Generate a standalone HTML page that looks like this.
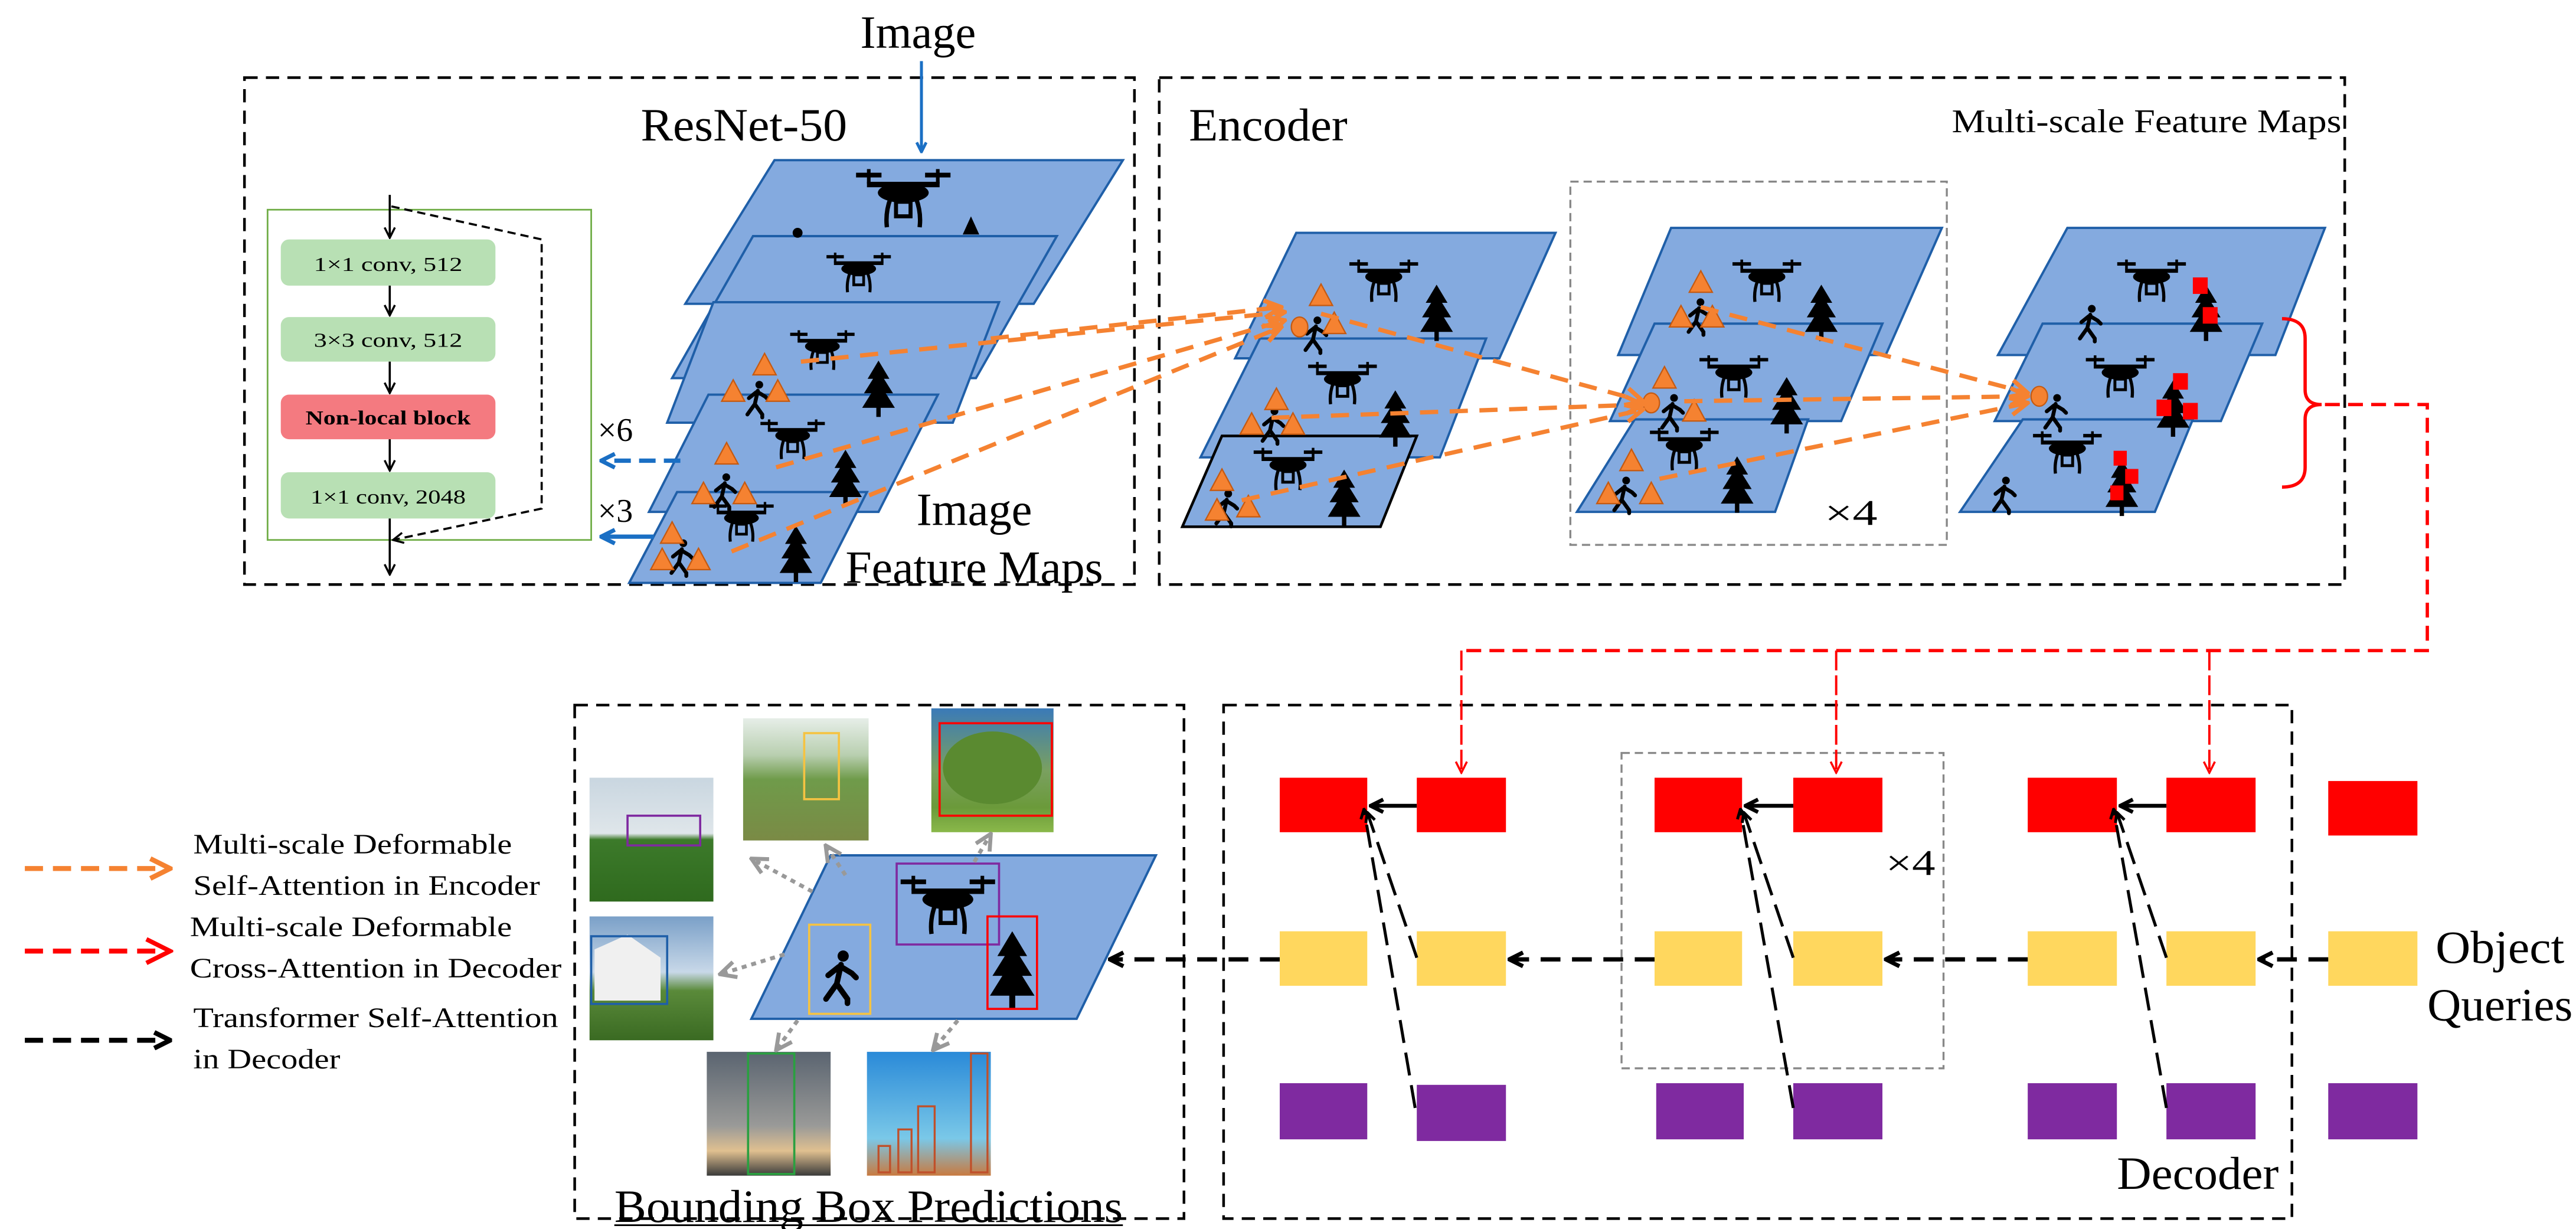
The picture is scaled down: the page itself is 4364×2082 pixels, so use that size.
<!DOCTYPE html>
<html><head><meta charset="utf-8"><style>
html,body{margin:0;padding:0;background:#fff;}
svg{display:block;}
text{font-family:"Liberation Serif",serif;fill:#000;}
</style></head><body>
<svg width="4364" height="2082" viewBox="0 0 1560 744.3" xmlns="http://www.w3.org/2000/svg">
<defs>
<g id="drone">
<rect x="-26" y="-14" width="14" height="2.6" fill="#000"/><rect x="12" y="-14" width="14" height="2.6" fill="#000"/>
<rect x="-20" y="-16" width="2" height="8" fill="#000"/><rect x="18" y="-16" width="2" height="8" fill="#000"/>
<rect x="-20" y="-9" width="40" height="3" fill="#000"/>
<ellipse cx="0" cy="-3" rx="14" ry="5.5" fill="#000"/>
<path d="M-7,0 Q-10,8 -9,16 M7,0 Q10,8 9,16" stroke="#000" stroke-width="2.4" fill="none"/>
<rect x="-4" y="2" width="8" height="8" fill="none" stroke="#000" stroke-width="2.2"/>
</g>
<g id="tree">
<polygon points="0,-16 -6,-6 -3,-6 -8,2 -4,2 -9,10 9,10 4,2 8,2 3,-6 6,-6" fill="#000"/>
<rect x="-1.2" y="9" width="2.4" height="6" fill="#000"/>
</g>
<g id="person">
<circle cx="2" cy="-10" r="2.6" fill="#000"/>
<path d="M1,-6 L-1,3 L-6,10 M-1,3 L4,10 L4,12 M0,-5 L-5,-1 M1,-5 L6,-2 L8,0" stroke="#000" stroke-width="2.6" fill="none" stroke-linecap="round"/>
</g>
<polygon id="tri" points="0,-8 -7,5 7,5" fill="#f58231" stroke="#c55a11" stroke-width="0.8"/>
<marker id="ao" viewBox="0 0 10 10" refX="9" refY="5" markerWidth="5" markerHeight="5" orient="auto"><path d="M1,1 L9,5 L1,9" fill="none" stroke="#f58231" stroke-width="2"/></marker>
<marker id="ar" viewBox="0 0 10 10" refX="9" refY="5" markerWidth="6" markerHeight="6" orient="auto"><path d="M1,1 L9,5 L1,9" fill="none" stroke="#f00" stroke-width="1.5"/></marker>
<marker id="ak" viewBox="0 0 10 10" refX="9" refY="5" markerWidth="4" markerHeight="4" orient="auto"><path d="M1,1 L9,5 L1,9" fill="none" stroke="#000" stroke-width="2.4"/></marker>
<marker id="ak2" viewBox="0 0 10 10" refX="9" refY="5" markerWidth="6" markerHeight="6" orient="auto"><path d="M1,1 L9,5 L1,9" fill="none" stroke="#000" stroke-width="1.6"/></marker>
<marker id="ab" viewBox="0 0 10 10" refX="9" refY="5" markerWidth="4" markerHeight="4" orient="auto"><path d="M1,1 L9,5 L1,9" fill="none" stroke="#1a6fc4" stroke-width="2.4"/></marker>
<marker id="ag" viewBox="0 0 10 10" refX="9" refY="5" markerWidth="5" markerHeight="5" orient="auto"><path d="M1,1 L9,5 L1,9" fill="none" stroke="#999" stroke-width="2"/></marker>
</defs>

<!-- Main dashed boxes -->
<g fill="none" stroke="#000" stroke-width="1.6" stroke-dasharray="8,5">
<rect x="148" y="47" width="539" height="307"/>
<rect x="702" y="47" width="718" height="307"/>
<rect x="348" y="427" width="369" height="311"/>
<rect x="741" y="427" width="647" height="311"/>
</g>
<g fill="none" stroke="#888" stroke-width="1.2" stroke-dasharray="5,3">
<rect x="951" y="110" width="228" height="220"/>
<rect x="982" y="456" width="195" height="191"/>
</g>

<!-- titles -->
<text x="556" y="29" font-size="28" text-anchor="middle" textLength="70" lengthAdjust="spacingAndGlyphs">Image</text>
<line x1="558" y1="37" x2="558" y2="92" stroke="#1a6fc4" stroke-width="1.8" marker-end="url(#ab)"/>
<text x="388" y="85" font-size="28" textLength="125" lengthAdjust="spacingAndGlyphs">ResNet-50</text>
<text x="720" y="85" font-size="28" textLength="96" lengthAdjust="spacingAndGlyphs">Encoder</text>
<text x="1182" y="80" font-size="20" textLength="236" lengthAdjust="spacingAndGlyphs">Multi-scale Feature Maps</text>

<!-- green block -->
<rect x="162" y="127" width="196" height="200" fill="none" stroke="#70ad47" stroke-width="1"/>
<g font-size="12" text-anchor="middle">
<rect x="170" y="145" width="130" height="28" rx="5" fill="#b8e0b4"/>
<text x="235" y="164" textLength="90" lengthAdjust="spacingAndGlyphs">1×1  conv, 512</text>
<rect x="170" y="192" width="130" height="27" rx="5" fill="#b8e0b4"/>
<text x="235" y="210" textLength="90" lengthAdjust="spacingAndGlyphs">3×3  conv, 512</text>
<rect x="170" y="239" width="130" height="27" rx="5" fill="#f47a80"/>
<text x="235" y="257" font-weight="bold" textLength="100" lengthAdjust="spacingAndGlyphs">Non-local block</text>
<rect x="170" y="286" width="130" height="28" rx="5" fill="#b8e0b4"/>
<text x="235" y="305" textLength="94" lengthAdjust="spacingAndGlyphs">1×1  conv, 2048</text>
</g>
<g stroke="#000" stroke-width="1.3" marker-end="url(#ak2)">
<line x1="236" y1="118" x2="236" y2="144"/>
<line x1="236" y1="173" x2="236" y2="191"/>
<line x1="236" y1="219" x2="236" y2="238"/>
<line x1="236" y1="266" x2="236" y2="285"/>
<line x1="236" y1="314" x2="236" y2="348"/>
</g>
<polyline points="237,125 328,145 328,308 238,327" fill="none" stroke="#000" stroke-width="1.3" stroke-dasharray="5,3" marker-end="url(#ak2)"/>

<!-- ResNet layers -->
<g fill="#84aadf" stroke="#1f5fa8" stroke-width="1.4">
<polygon points="469,97 680,97 626,184 415,184"/>
<polygon points="456,143 640,143 591,229 407,229"/>
<polygon points="432,183 605,183 577,256 404,256"/>
<polygon points="429,239 568,239 532,310 393,310"/>
<polygon points="410,298 525,298 497,353 381,353"/>
</g>
<!-- icons on resnet layers -->
<circle cx="483" cy="141" r="3" fill="#000"/>
<polygon points="588,131 583,142 593,142" fill="#000"/>
<use href="#drone" transform="translate(547,120) scale(1.1)"/>
<use href="#drone" transform="translate(520,165) scale(0.75)"/>
<use href="#drone" transform="translate(498,212) scale(0.75)"/>
<use href="#tree" transform="translate(532,236) scale(1.1)"/>
<use href="#person" transform="translate(458,242) scale(0.9)"/>
<use href="#tri" transform="translate(463,222)"/><use href="#tri" transform="translate(444,238)"/><use href="#tri" transform="translate(471,238)"/>
<use href="#drone" transform="translate(480,266) scale(0.75)"/>
<use href="#tree" transform="translate(512,290) scale(1.1)"/>
<use href="#person" transform="translate(438,298) scale(0.9)"/>
<use href="#tri" transform="translate(440,276)"/><use href="#tri" transform="translate(426,300)"/><use href="#tri" transform="translate(451,300)"/>
<use href="#drone" transform="translate(449,316) scale(0.75)"/>
<use href="#tree" transform="translate(482,336) scale(1.1)"/>
<use href="#person" transform="translate(412,338) scale(0.9)"/>
<use href="#tri" transform="translate(407,324)"/><use href="#tri" transform="translate(401,340)"/><use href="#tri" transform="translate(423,340)"/>

<text x="555" y="318" font-size="28" textLength="70" lengthAdjust="spacingAndGlyphs">Image</text>
<text x="512" y="353" font-size="28" textLength="156" lengthAdjust="spacingAndGlyphs">Feature Maps</text>
<text x="362" y="267" font-size="20">×6</text>
<text x="362" y="316" font-size="20">×3</text>
<line x1="412" y1="279" x2="364" y2="279" stroke="#1a6fc4" stroke-width="2.6" stroke-dasharray="10,5" marker-end="url(#ab)"/>
<line x1="396" y1="325" x2="364" y2="325" stroke="#1a6fc4" stroke-width="2.6" marker-end="url(#ab)"/>

<!-- Encoder stacks -->
<g fill="#84aadf" stroke="#1f5fa8" stroke-width="1.4">
<polygon points="785,141 942,141 908,217 748,217"/>
<polygon points="763,205 900,205 872,277 727,277"/>
<polygon points="740,264 858,264 836,319 716,319" stroke="#000" stroke-width="1.6"/>
<polygon points="1012,138 1176,138 1142,215 980,215"/>
<polygon points="1002,196 1140,196 1115,255 975,255"/>
<polygon points="990,254 1095,254 1075,310 955,310"/>
<polygon points="1252,138 1408,138 1378,215 1210,215"/>
<polygon points="1237,196 1370,196 1345,255 1208,255"/>
<polygon points="1225,254 1328,254 1305,310 1187,310"/>
</g>
<!-- stack1 icons -->
<use href="#drone" transform="translate(838,170) scale(0.8)"/>
<use href="#tree" transform="translate(870,190) scale(1.1)"/>
<use href="#person" transform="translate(796,203) scale(0.9)"/>
<ellipse cx="787" cy="198" rx="5" ry="6" fill="#f58231" stroke="#c55a11" stroke-width="0.8"/>
<use href="#tri" transform="translate(800,180)"/><use href="#tri" transform="translate(808,197)"/>
<use href="#drone" transform="translate(813,232) scale(0.8)"/>
<use href="#tree" transform="translate(845,254) scale(1.1)"/>
<use href="#person" transform="translate(770,258) scale(0.9)"/>
<use href="#tri" transform="translate(773,243)"/><use href="#tri" transform="translate(758,258)"/><use href="#tri" transform="translate(783,258)"/>
<use href="#drone" transform="translate(780,284) scale(0.8)"/>
<use href="#tree" transform="translate(814,302) scale(1.1)"/>
<use href="#person" transform="translate(742,308) scale(0.9)"/>
<use href="#tri" transform="translate(740,292)"/><use href="#tri" transform="translate(737,310)"/><use href="#tri" transform="translate(756,308)"/>
<!-- stack2 icons -->
<use href="#drone" transform="translate(1070,170) scale(0.8)"/>
<use href="#tree" transform="translate(1103,190) scale(1.1)"/>
<use href="#person" transform="translate(1028,192) scale(0.9)"/>
<use href="#tri" transform="translate(1030,172)"/><use href="#tri" transform="translate(1018,193)"/><use href="#tri" transform="translate(1037,193)"/>
<use href="#drone" transform="translate(1050,228) scale(0.8)"/>
<use href="#tree" transform="translate(1082,246) scale(1.1)"/>
<use href="#person" transform="translate(1012,250) scale(0.9)"/>
<ellipse cx="1000" cy="244" rx="5" ry="6" fill="#f58231" stroke="#c55a11" stroke-width="0.8"/>
<use href="#tri" transform="translate(1008,230)"/><use href="#tri" transform="translate(1026,250)"/>
<use href="#drone" transform="translate(1020,272) scale(0.8)"/>
<use href="#tree" transform="translate(1052,294) scale(1.1)"/>
<use href="#person" transform="translate(983,300) scale(0.9)"/>
<use href="#tri" transform="translate(988,280)"/><use href="#tri" transform="translate(974,300)"/><use href="#tri" transform="translate(1000,300)"/>
<text x="1105" y="318" font-size="22" textLength="32" lengthAdjust="spacingAndGlyphs">×4</text>
<!-- stack3 icons -->
<use href="#drone" transform="translate(1303,170) scale(0.8)"/>
<use href="#tree" transform="translate(1336,190) scale(1.1)"/>
<use href="#person" transform="translate(1265,196) scale(0.9)"/>
<rect x="1328" y="168" width="9" height="10" fill="#f00"/><rect x="1334" y="186" width="9" height="10" fill="#f00"/>
<use href="#drone" transform="translate(1284,228) scale(0.8)"/>
<use href="#tree" transform="translate(1316,248) scale(1.1)"/>
<use href="#person" transform="translate(1244,250) scale(0.9)"/>
<ellipse cx="1235" cy="240" rx="5" ry="6" fill="#f58231" stroke="#c55a11" stroke-width="0.8"/>
<rect x="1316" y="226" width="9" height="10" fill="#f00"/><rect x="1306" y="242" width="9" height="10" fill="#f00"/><rect x="1322" y="244" width="9" height="10" fill="#f00"/>
<use href="#drone" transform="translate(1252,274) scale(0.8)"/>
<use href="#tree" transform="translate(1285,296) scale(1.1)"/>
<use href="#person" transform="translate(1213,300) scale(0.9)"/>
<rect x="1280" y="273" width="8" height="9" fill="#f00"/><rect x="1287" y="284" width="8" height="9" fill="#f00"/><rect x="1278" y="294" width="8" height="9" fill="#f00"/>

<!-- orange dashed arrows -->
<g stroke="#f58231" stroke-width="2.6" stroke-dasharray="11,7" fill="none" marker-end="url(#ao)">
<line x1="485" y1="219" x2="778" y2="189"/>
<line x1="470" y1="283" x2="778" y2="194"/>
<line x1="443" y1="334" x2="776" y2="198"/>
<line x1="600" y1="205" x2="776" y2="186"/>
<line x1="800" y1="190" x2="995" y2="243"/>
<line x1="770" y1="253" x2="995" y2="245"/>
<line x1="752" y1="303" x2="995" y2="248"/>
<line x1="1030" y1="186" x2="1228" y2="238"/>
<line x1="1020" y1="243" x2="1228" y2="240"/>
<line x1="1005" y1="290" x2="1228" y2="244"/>
</g>

<!-- red bracket & connectors -->
<path d="M1382,193 Q1396,193 1396,205 L1396,236 Q1396,245 1406,245 Q1396,245 1396,254 L1396,283 Q1396,295 1382,295" fill="none" stroke="#f00" stroke-width="2"/>
<polyline points="1408,245 1470,245 1470,394 885,394" fill="none" stroke="#f00" stroke-width="2" stroke-dasharray="9,5"/>
<g stroke="#f00" stroke-width="1.4" stroke-dasharray="12,3" marker-end="url(#ar)">
<line x1="885" y1="394" x2="885" y2="468"/>
<line x1="1112" y1="394" x2="1112" y2="468"/>
<line x1="1338" y1="394" x2="1338" y2="468"/>
</g>

<!-- decoder blocks -->
<g fill="#f00">
<rect x="775" y="471" width="53" height="33"/><rect x="858" y="471" width="54" height="33"/>
<rect x="1002" y="471" width="53" height="33"/><rect x="1086" y="471" width="54" height="33"/>
<rect x="1228" y="471" width="54" height="33"/><rect x="1312" y="471" width="54" height="33"/>
<rect x="1410" y="473" width="54" height="33"/>
</g>
<g fill="#ffd75e">
<rect x="775" y="564" width="53" height="33"/><rect x="858" y="564" width="54" height="33"/>
<rect x="1002" y="564" width="53" height="33"/><rect x="1086" y="564" width="54" height="33"/>
<rect x="1228" y="564" width="54" height="33"/><rect x="1312" y="564" width="54" height="33"/>
<rect x="1410" y="564" width="54" height="33"/>
</g>
<g fill="#7f2aa0">
<rect x="775" y="656" width="53" height="34"/><rect x="858" y="657" width="54" height="34"/>
<rect x="1003" y="656" width="53" height="34"/><rect x="1086" y="656" width="54" height="34"/>
<rect x="1228" y="656" width="54" height="34"/><rect x="1312" y="656" width="54" height="34"/>
<rect x="1410" y="656" width="54" height="34"/>
</g>
<g stroke="#000" stroke-width="2.4" marker-end="url(#ak)">
<line x1="858" y1="488" x2="830" y2="488"/>
<line x1="1086" y1="488" x2="1057" y2="488"/>
<line x1="1312" y1="488" x2="1284" y2="488"/>
</g>
<g stroke="#000" stroke-width="1.8" stroke-dasharray="14,6" fill="none" marker-end="url(#ak)">
<line x1="857" y1="671" x2="826" y2="490"/>
<line x1="858" y1="580" x2="828" y2="492"/>
<line x1="1086" y1="671" x2="1054" y2="490"/>
<line x1="1086" y1="580" x2="1056" y2="492"/>
<line x1="1312" y1="671" x2="1280" y2="490"/>
<line x1="1312" y1="580" x2="1282" y2="492"/>
</g>
<g stroke="#000" stroke-width="2.6" stroke-dasharray="12,7" marker-end="url(#ak)">
<line x1="1410" y1="581" x2="1368" y2="581"/>
<line x1="1228" y1="581" x2="1142" y2="581"/>
<line x1="1002" y1="581" x2="914" y2="581"/>
<line x1="775" y1="581" x2="672" y2="581"/>
</g>
<text x="1142" y="530" font-size="22" textLength="30" lengthAdjust="spacingAndGlyphs">×4</text>
<text x="1475" y="583" font-size="28" textLength="78" lengthAdjust="spacingAndGlyphs">Object</text>
<text x="1470" y="618" font-size="28" textLength="88" lengthAdjust="spacingAndGlyphs">Queries</text>
<text x="1282" y="720" font-size="28" textLength="98" lengthAdjust="spacingAndGlyphs">Decoder</text>

<!-- bbox section -->
<polygon points="503,518 700,518 652,617 455,617" fill="#84aadf" stroke="#1f5fa8" stroke-width="1.4"/>
<use href="#drone" transform="translate(574,548) scale(1.1)"/>
<use href="#person" transform="translate(508,592) scale(1.3)"/>
<use href="#tree" transform="translate(613,588) scale(1.5)"/>
<rect x="543" y="523" width="62" height="49" fill="none" stroke="#7f2aa0" stroke-width="1.3"/>
<rect x="490" y="560" width="37" height="54" fill="none" stroke="#f5c342" stroke-width="1.3"/>
<rect x="598" y="555" width="30" height="56" fill="none" stroke="#f00" stroke-width="1.3"/>
<!-- photos -->
<defs>
<linearGradient id="sky1" x1="0" y1="0" x2="0" y2="1"><stop offset="0" stop-color="#c9d6e0"/><stop offset="0.45" stop-color="#dfe6ea"/><stop offset="0.5" stop-color="#3c7a2a"/><stop offset="1" stop-color="#2f6a1e"/></linearGradient>
<linearGradient id="sky2" x1="0" y1="0" x2="0" y2="1"><stop offset="0" stop-color="#e6eee8"/><stop offset="0.3" stop-color="#b9cfb0"/><stop offset="0.5" stop-color="#6f9b4a"/><stop offset="1" stop-color="#7a8a45"/></linearGradient>
<linearGradient id="sky3" x1="0" y1="0" x2="0" y2="1"><stop offset="0" stop-color="#3a7ab8"/><stop offset="0.5" stop-color="#7aa060"/><stop offset="0.8" stop-color="#6b9a3a"/><stop offset="1" stop-color="#8ab84a"/></linearGradient>
<linearGradient id="sky4" x1="0" y1="0" x2="0" y2="1"><stop offset="0" stop-color="#7aa0c8"/><stop offset="0.45" stop-color="#c8d8e8"/><stop offset="0.6" stop-color="#5a8a3a"/><stop offset="1" stop-color="#3a6a22"/></linearGradient>
<linearGradient id="sky5" x1="0" y1="0" x2="0" y2="1"><stop offset="0" stop-color="#5a6470"/><stop offset="0.6" stop-color="#9a9a98"/><stop offset="0.8" stop-color="#e0c090"/><stop offset="1" stop-color="#3a3a3a"/></linearGradient>
<linearGradient id="sky6" x1="0" y1="0" x2="0" y2="1"><stop offset="0" stop-color="#2a8ad8"/><stop offset="0.7" stop-color="#7ac8e8"/><stop offset="1" stop-color="#c87a40"/></linearGradient>
</defs>
<rect x="357" y="471" width="75" height="75" fill="url(#sky1)"/>
<rect x="380" y="494" width="44" height="18" fill="none" stroke="#7f2aa0" stroke-width="1.3"/>
<rect x="450" y="435" width="76" height="74" fill="url(#sky2)"/>
<rect x="487" y="444" width="21" height="40" fill="none" stroke="#f5c342" stroke-width="1.3"/>
<rect x="564" y="429" width="74" height="75" fill="url(#sky3)"/>
<ellipse cx="601" cy="465" rx="30" ry="22" fill="#5a8a30"/>
<rect x="569" y="438" width="68" height="56" fill="none" stroke="#f00" stroke-width="1.3"/>
<rect x="357" y="555" width="75" height="75" fill="url(#sky4)"/>
<polygon points="360,575 380,566 400,580 400,606 360,606" fill="#f0f0f0"/>
<rect x="358" y="567" width="46" height="41" fill="none" stroke="#1f5fa8" stroke-width="1.3"/>
<rect x="428" y="637" width="75" height="75" fill="url(#sky5)"/>
<rect x="453" y="638" width="28" height="73" fill="none" stroke="#2aa040" stroke-width="1.3"/>
<rect x="525" y="637" width="75" height="75" fill="url(#sky6)"/>
<g fill="none" stroke="#c0502a" stroke-width="1.2">
<rect x="588" y="638" width="10" height="72"/><rect x="556" y="670" width="10" height="40"/><rect x="544" y="684" width="8" height="26"/><rect x="532" y="694" width="7" height="16"/>
</g>
<g stroke="#999" stroke-width="2.4" stroke-dasharray="3,3" marker-end="url(#ag)">
<line x1="492" y1="540" x2="455" y2="520"/>
<line x1="512" y1="530" x2="500" y2="512"/>
<line x1="590" y1="522" x2="600" y2="505"/>
<line x1="475" y1="578" x2="436" y2="590"/>
<line x1="483" y1="618" x2="470" y2="636"/>
<line x1="580" y1="618" x2="565" y2="636"/>
</g>
<text x="372" y="740" font-size="28" textLength="308" lengthAdjust="spacingAndGlyphs">Bounding Box Predictions</text>
<line x1="372" y1="742" x2="680" y2="742" stroke="#000" stroke-width="1"/>

<!-- legend -->
<line x1="15" y1="526" x2="103" y2="526" stroke="#f58231" stroke-width="3" stroke-dasharray="11,6" marker-end="url(#ao)"/>
<line x1="15" y1="576" x2="103" y2="576" stroke="#f00" stroke-width="3" stroke-dasharray="11,6" marker-end="url(#ar)"/>
<line x1="15" y1="630" x2="103" y2="630" stroke="#000" stroke-width="3" stroke-dasharray="11,6" marker-end="url(#ak)"/>
<g font-size="17">
<text x="117" y="517" textLength="193" lengthAdjust="spacingAndGlyphs">Multi-scale Deformable</text>
<text x="117" y="542" textLength="210" lengthAdjust="spacingAndGlyphs">Self-Attention in Encoder</text>
<text x="115" y="567" textLength="195" lengthAdjust="spacingAndGlyphs">Multi-scale Deformable</text>
<text x="115" y="592" textLength="225" lengthAdjust="spacingAndGlyphs">Cross-Attention in Decoder</text>
<text x="117" y="622" textLength="221" lengthAdjust="spacingAndGlyphs">Transformer Self-Attention</text>
<text x="117" y="647" textLength="89" lengthAdjust="spacingAndGlyphs">in Decoder</text>
</g>
</svg>
</body></html>
